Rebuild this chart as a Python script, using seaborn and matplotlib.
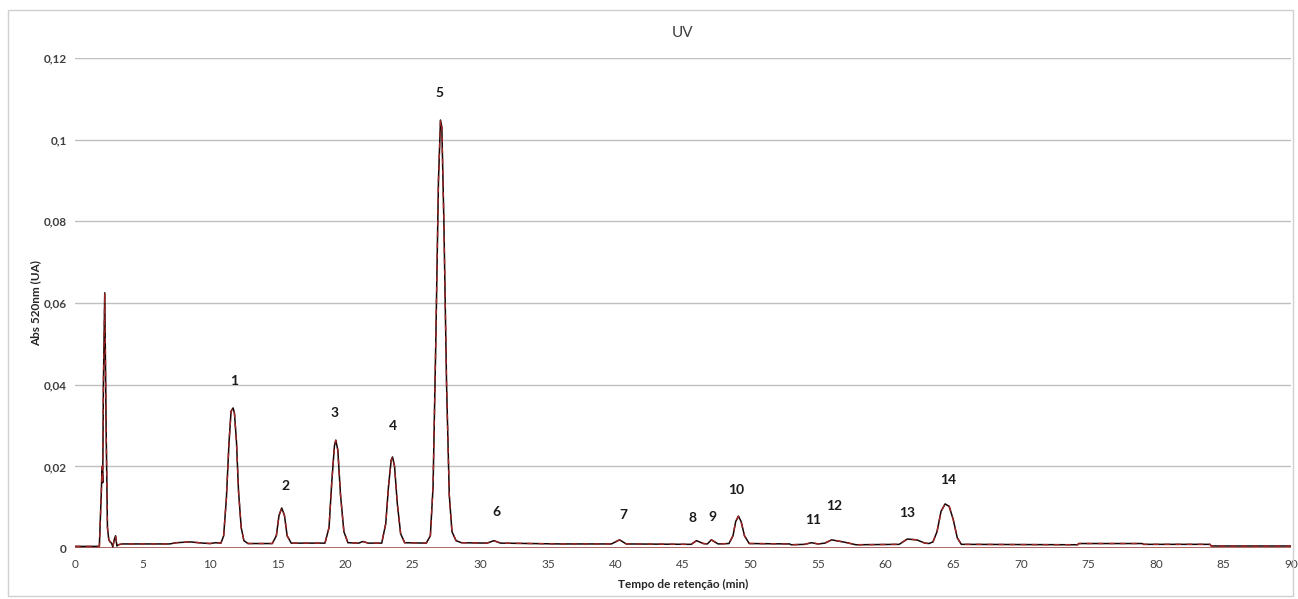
import matplotlib
matplotlib.use("Agg")
import matplotlib.pyplot as plt
import seaborn as sns
import pandas as pd
from matplotlib.ticker import FuncFormatter, MultipleLocator
from matplotlib.patches import Rectangle

# chromatogram trace (time in min, absorbance in UA)
tempo = [0, 1.8, 1.95, 2.0, 2.05, 2.1, 2.2, 2.3, 2.4, 2.5, 2.6, 2.7, 2.8, 2.9, 3.0, 3.1, 3.2, 3.5,
         4.0, 7.0, 7.5, 8.5, 9.5, 10.0, 10.4, 10.8, 11.0, 11.2, 11.4, 11.55, 11.7, 11.8, 11.95,
         12.1, 12.3, 12.5, 12.8, 14.6, 14.9, 15.1, 15.3, 15.5, 15.7, 16.0, 18.5, 18.8, 19.0,
         19.2, 19.3, 19.45, 19.65, 19.9, 20.2, 21.0, 21.3, 21.7, 22.7, 23.0, 23.2, 23.4, 23.5,
         23.65, 23.85, 24.1, 24.4, 26.0, 26.3, 26.5, 26.7, 26.9, 27.05, 27.15, 27.3, 27.5, 27.7,
         27.9, 28.2, 28.6, 30.5, 31.0, 31.5, 34.0, 36.0, 39.7, 40.3, 40.8, 45.6, 46.0, 46.5,
         46.8, 47.1, 47.6, 48.4, 48.7, 48.9, 49.1, 49.3, 49.55, 49.9, 52.9, 53.0, 54.0, 54.5,
         55.0, 55.5, 56.0, 57.0, 57.8, 61.0, 61.6, 62.3, 62.9, 63.2, 63.5, 63.8, 64.1, 64.4,
         64.7, 65.0, 65.3, 65.6, 74.2, 74.3, 79.0, 79.1, 84.0, 84.1, 90.0]
absorbancia = [0.0004, 0.0004, 0.014, 0.02, 0.016, 0.04, 0.0625, 0.03, 0.005, 0.002, 0.0015, 0.0012,
               0.0003, 0.002, 0.003, 0.0005, 0.0008, 0.001, 0.001, 0.001, 0.0013, 0.0015, 0.0012,
               0.0011, 0.0013, 0.0012, 0.003, 0.012, 0.026, 0.0335, 0.0343, 0.033, 0.026, 0.014,
               0.005, 0.0018, 0.0011, 0.0011, 0.003, 0.008, 0.0098, 0.008, 0.003, 0.0012, 0.0012,
               0.005, 0.016, 0.025, 0.0264, 0.024, 0.013, 0.004, 0.0013, 0.0012, 0.0016, 0.0012,
               0.0012, 0.006, 0.015, 0.0215, 0.0223, 0.02, 0.011, 0.0035, 0.0013, 0.0012, 0.003,
               0.015, 0.05, 0.09, 0.1048, 0.103, 0.08, 0.04, 0.013, 0.004, 0.0018, 0.0013, 0.0012,
               0.0018, 0.0012, 0.0011, 0.001, 0.001, 0.002, 0.001, 0.0009, 0.0018, 0.0011, 0.001,
               0.002, 0.001, 0.0011, 0.003, 0.0065, 0.0078, 0.0065, 0.003, 0.0011, 0.001, 0.0008,
               0.0009, 0.0013, 0.001, 0.0012, 0.002, 0.0014, 0.0008, 0.0009, 0.0022, 0.002, 0.0012,
               0.0011, 0.0015, 0.004, 0.009, 0.0108, 0.0102, 0.007, 0.0025, 0.0009, 0.0008, 0.0011,
               0.0011, 0.0009, 0.0009, 0.0005, 0.0005]

# peak numbering labels
picos = ["1", "2", "3", "4", "5", "6", "7", "8", "9", "10", "11", "12", "13", "14"]
picos_x = [11.8, 15.6, 19.2, 23.5, 27.0, 31.2, 40.6, 45.7, 47.2, 48.9, 54.6, 56.2, 61.6, 64.6]
picos_y = [0.0409, 0.0152, 0.033, 0.0299, 0.1114, 0.0088, 0.0081, 0.0073, 0.0076, 0.0142,
           0.0069, 0.0103, 0.0086, 0.0167]

df = pd.DataFrame({"tempo": tempo, "abs": absorbancia})

sns.set_style("white")
plt.rcParams['font.family'] = ['Lato', 'DejaVu Sans']

fig = plt.figure(figsize=(12.98, 5.99), dpi=100)
ax = fig.add_axes([0.0578, 0.0851, 0.9368, 0.8181])

# baseline series
ax.axhline(0, color='#a0504d', lw=1.2, zorder=3)
sns.lineplot(data=df, x="tempo", y="abs", estimator=None, sort=False,
             color='#1a0303', lw=1.1, ax=ax, zorder=4)
sns.lineplot(data=df, x="tempo", y="abs", estimator=None, sort=False,
             color='#a02525', lw=1.0, ls=(0, (4, 4)), ax=ax, zorder=5)

for lab, px, py in zip(picos, picos_x, picos_y):
    ax.text(px, py, lab, ha='center', va='center', fontsize=10,
            fontweight='bold', color='#1a1a1a')

ax.set_xlim(0, 90)
ax.set_ylim(0, 0.12)
ax.xaxis.set_major_locator(MultipleLocator(5))
ax.yaxis.set_major_locator(MultipleLocator(0.02))
ax.yaxis.set_major_formatter(FuncFormatter(
    lambda v, p: '0' if abs(v) < 1e-9 else f'{v:.2f}'.rstrip('0').replace('.', ',')))
ax.grid(axis='y', color='#c0c0c0', lw=1)
ax.grid(axis='x', visible=False)
for s in ax.spines.values():
    s.set_visible(False)
ax.tick_params(axis='both', length=0, labelsize=8.5, labelcolor='#404040', pad=6)
ax.tick_params(axis='x', pad=8)
for t in ax.get_yticklabels():
    t.set_fontweight('bold')

ax.set_xlabel('Tempo de retenção (min)', fontsize=8.5, fontweight='bold', color='#262626', labelpad=6)
ax.set_ylabel('Abs 520nm (UA)', fontsize=8.5, fontweight='bold', color='#262626', labelpad=2)
fig.text(0.526, 0.945, 'UV', ha='center', va='center', fontsize=11, color='#404040')

# outer chart border
fig.patches.append(Rectangle((0.0065, 0.005), 0.99, 0.978, transform=fig.transFigure,
                             fill=False, edgecolor='#d0d0d0', lw=1))

fig.savefig('out.png', dpi=100)
